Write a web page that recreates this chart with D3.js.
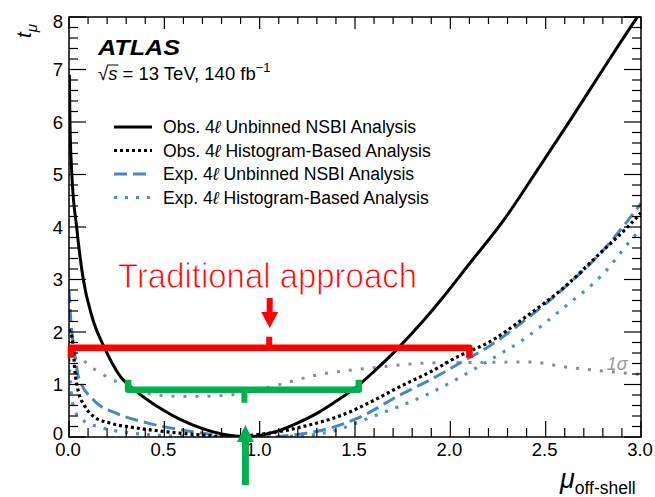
<!DOCTYPE html>
<html><head><meta charset="utf-8">
<script src="https://cdn.jsdelivr.net/npm/d3@7"></script>
<style>body{margin:0;background:#fff}svg{display:block}text{font-family:"Liberation Sans",Arial,sans-serif}</style>
</head><body><svg id="c" width="655" height="497"></svg>
<script>
// ---- data ----
const obsNsbiMu = [0.002,0.005,0.015,0.04,0.075,0.12,0.19,0.27,0.35,0.5,0.58,0.7,0.8,0.9,0.95,1.0,1.1,1.2,1.3,1.4,1.5,1.6,1.72,1.85,1.95,2.1,2.28,2.45,2.63,2.8,2.97,3.0];
const obsNsbiT  = [6.9,6.0,5.0,4.0,3.0,2.3,1.67,1.15,0.88,0.5,0.34,0.16,0.06,0.01,0.0,0.03,0.12,0.27,0.45,0.68,0.93,1.25,1.67,2.18,2.61,3.3,4.13,5.05,6.04,7.0,7.94,8.1];
const obsHistMu = [0.0,0.02,0.03,0.047,0.084,0.126,0.21,0.34,0.51,0.69,0.85,1.0,1.1,1.25,1.42,1.6,1.72,1.9,2.05,2.2,2.4,2.59,2.8,2.93,3.0];
const obsHistT  = [2.05,1.8,1.3,0.9,0.58,0.4,0.27,0.18,0.1,0.04,0.005,0.05,0.1,0.22,0.4,0.7,0.93,1.25,1.55,1.8,2.3,2.83,3.55,4.0,4.27];
const expNsbiMu = [0.0,0.01,0.03,0.05,0.13,0.25,0.42,0.6,0.78,0.9,1.0,1.1,1.2,1.37,1.55,1.72,1.9,2.07,2.2,2.4,2.6,2.8,3.0];
const expNsbiT  = [2.8,2.2,1.6,1.14,0.7,0.45,0.26,0.13,0.04,0.01,0.0,0.01,0.05,0.17,0.42,0.77,1.1,1.45,1.72,2.25,2.85,3.55,4.45];
const expHistMu = [0.0,0.01,0.03,0.08,0.16,0.34,0.55,0.8,1.0,1.2,1.37,1.6,1.89,2.19,2.4,2.58,2.8,2.98,3.0];
const expHistT  = [1.5,0.9,0.5,0.3,0.19,0.07,0.02,0.0,0.0,0.02,0.1,0.4,0.83,1.43,1.9,2.42,3.1,3.88,3.95];
const sigmaMu   = [0.08,0.1,0.16,0.21,0.27,0.46,0.65,0.84,1.05,1.3,1.6,1.89,2.16,2.42,2.59,2.94,3.0];
const sigmaT    = [1.45,1.37,1.24,1.12,1.03,0.8,0.77,0.8,0.95,1.18,1.32,1.41,1.42,1.43,1.34,1.21,1.19];
const xTicks = [0.0,0.5,1.0,1.5,2.0,2.5,3.0];
const yTicks = [0,1,2,3,4,5,6,7,8];
const legendLabels = ["Obs. 4ℓ Unbinned NSBI Analysis","Obs. 4ℓ Histogram-Based Analysis","Exp. 4ℓ Unbinned NSBI Analysis","Exp. 4ℓ Histogram-Based Analysis"];
// annotations (data coords)
const tradInterval = [0.01, 2.10]; const tradLevel = 1.70; const tradMark = 1.05;
const nsbiInterval = [0.31, 1.52]; const nsbiLevel = 0.90; const nsbiMark = 0.92;

const svg = d3.select("#c");
const L=69,R=641,T=17,B=437;
const x = d3.scaleLinear().domain([0,3]).range([L,R]);
const y = d3.scaleLinear().domain([0,8]).range([B,T]);

svg.append("defs").append("clipPath").attr("id","clip").append("rect")
  .attr("x",L).attr("y",T).attr("width",R-L).attr("height",B-T);

const line = d3.line().x(d=>x(d[0])).y(d=>y(d[1])).curve(d3.curveMonotoneX);
const zip=(a,b)=>a.map((v,i)=>[v,b[i]]);
const g = svg.append("g").attr("clip-path","url(#clip)");

const styles = [
  {stroke:"#000", w:3, dash:null},
  {stroke:"#000", w:3.2, dash:"3,3"},
  {stroke:"#4a86c0", w:3, dash:"13,6"},
  {stroke:"#4a8fd0", w:3.2, dash:"3,8"}
];
// grey 1 sigma
g.append("path").attr("d",line(zip(sigmaMu,sigmaT))).attr("fill","none")
  .attr("stroke","#8c8c8c").attr("stroke-width",3).attr("stroke-dasharray","3,9");
const series=[zip(obsNsbiMu,obsNsbiT),zip(obsHistMu,obsHistT),zip(expNsbiMu,expNsbiT),zip(expHistMu,expHistT)];
[3,2,1,0].forEach(i=>{
  g.append("path").attr("d",line(series[i])).attr("fill","none")
   .attr("stroke",styles[i].stroke).attr("stroke-width",styles[i].w)
   .attr("stroke-dasharray",styles[i].dash);
});

svg.append("text").attr("x",x(2.82)).attr("y",y(1.28)).attr("font-size",18)
  .attr("font-style","italic").attr("fill","#9a9a9a").text("1σ");

// frame
svg.append("rect").attr("x",L).attr("y",T).attr("width",R-L).attr("height",B-T)
  .attr("fill","none").attr("stroke","#000").attr("stroke-width",1.5);

// ticks
const ax = svg.append("g").attr("stroke","#000").attr("stroke-width",1.2);
d3.range(0,3.0001,0.1).forEach(v=>{
  const major = Math.abs(v*2-Math.round(v*2))<1e-6;
  const len = major?16:9;
  ax.append("line").attr("x1",x(v)).attr("x2",x(v)).attr("y1",B).attr("y2",B-len);
  ax.append("line").attr("x1",x(v)).attr("x2",x(v)).attr("y1",T).attr("y2",T+(major?12:7));
});
d3.range(0,8.0001,0.2).forEach(v=>{
  const major = Math.abs(v-Math.round(v))<1e-6;
  const len = major?17:9;
  ax.append("line").attr("y1",y(v)).attr("y2",y(v)).attr("x1",L).attr("x2",L+len);
  ax.append("line").attr("y1",y(v)).attr("y2",y(v)).attr("x1",R).attr("x2",R-len);
});
xTicks.forEach(v=>svg.append("text").attr("x",x(v)-1).attr("y",456).attr("text-anchor","middle")
  .attr("font-size",18.5).text(d3.format(".1f")(v)));
yTicks.forEach(v=>svg.append("text").attr("x",63).attr("y",v===0?440:y(v)+(v===8?4:0)+6.5)
  .attr("text-anchor","end").attr("font-size",18.5).text(v));

// axis titles
const yl = svg.append("text").attr("transform","translate(31,38) rotate(-90)").attr("font-size",21).attr("font-style","italic");
yl.append("tspan").text("t");
yl.append("tspan").attr("dy",6).attr("font-size",15).text("μ");
const xl = svg.append("text").attr("x",560).attr("y",488);
xl.append("tspan").attr("font-size",27).attr("font-style","italic").text("μ");
xl.append("tspan").attr("dy",6).attr("font-size",17.5).text("off-shell");

// ATLAS label
svg.append("text").attr("x",98).attr("y",55).attr("font-size",22).attr("font-weight","bold")
  .attr("font-style","italic").attr("textLength",82).attr("lengthAdjust","spacingAndGlyphs").text("ATLAS");
const sq = svg.append("text").attr("x",98).attr("y",80).attr("font-size",18.5);
sq.append("tspan").text("√");
sq.append("tspan").attr("font-style","italic").text("s");
sq.append("tspan").text(" = 13 TeV, 140 fb");
sq.append("tspan").attr("dy",-8).attr("font-size",13).text("−1");
{
  const n = sq.node();
  const s0 = n.getStartPositionOfChar(1).x, s1 = n.getEndPositionOfChar(1).x;
  svg.append("line").attr("x1",s0-1).attr("x2",s1+1).attr("y1",65).attr("y2",65).attr("stroke","#000").attr("stroke-width",1);
}

// legend
const legY=[127,150.5,174,197.5];
legendLabels.forEach((lab,i)=>{
  svg.append("line").attr("x1",114).attr("x2",152).attr("y1",legY[i]).attr("y2",legY[i])
    .attr("stroke",styles[i].stroke).attr("stroke-width",styles[i].w).attr("stroke-dasharray",styles[i].dash);
  const t = svg.append("text").attr("x",163).attr("y",legY[i]+6).attr("font-size",17.6);
  const parts = lab.split("ℓ");
  t.append("tspan").text(parts[0]);
  t.append("tspan").attr("font-style","italic").text("ℓ");
  t.append("tspan").text(parts[1]);
});

// annotations
const red="#ff0000", green="#00b04f";
svg.append("text").attr("x",118).attr("y",288).attr("font-size",35)
  .attr("fill",red).attr("stroke","#fff").attr("stroke-width",0.9).attr("paint-order","fill")
  .attr("textLength",299).attr("lengthAdjust","spacingAndGlyphs").text("Traditional approach");
function bracket(x0,x1,lev,mark,col,dir,tick){
  const yy=y(lev);
  const p=d3.path();
  p.moveTo(x(x0),yy+dir*10); p.lineTo(x(x0),yy); p.lineTo(x(x1),yy); p.lineTo(x(x1),yy+dir*10);
  svg.append("path").attr("d",p.toString()).attr("fill","none").attr("stroke",col)
    .attr("stroke-width",6.5).attr("stroke-linejoin","round");
  svg.append("line").attr("x1",x(mark)).attr("x2",x(mark)).attr("y1",yy).attr("y2",yy+tick)
    .attr("stroke",col).attr("stroke-width",6);
}
bracket(tradInterval[0],tradInterval[1],tradLevel,tradMark,red,1,-11);
bracket(nsbiInterval[0],nsbiInterval[1],nsbiLevel,nsbiMark,green,-1,13);
// red arrow (down)
{
  const cx=x(tradMark)+0.5;
  svg.append("rect").attr("x",cx-3).attr("y",298).attr("width",6).attr("height",15).attr("fill",red);
  svg.append("path").attr("d",`M${cx-8.5},312 L${cx+8.5},312 L${cx},328 Z`).attr("fill",red);
}
// green arrow (up)
{
  const cx=x(nsbiMark)+1;
  svg.append("rect").attr("x",cx-3.5).attr("y",441).attr("width",7).attr("height",44).attr("fill",green);
  svg.append("path").attr("d",`M${cx-8.5},442 L${cx+8.5},442 L${cx},425 Z`).attr("fill",green);
}
</script></body></html>
